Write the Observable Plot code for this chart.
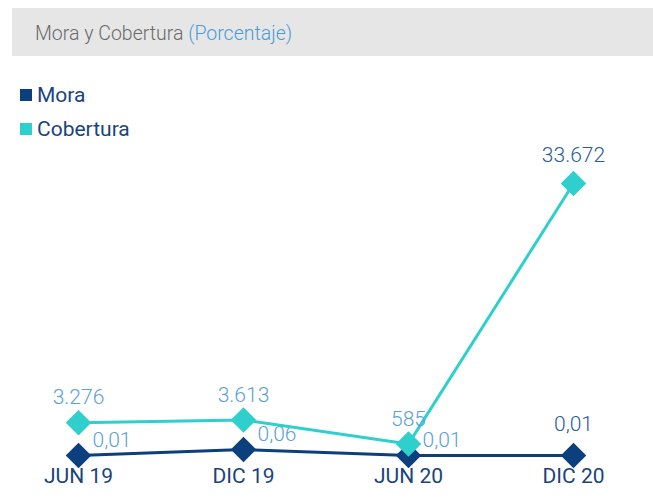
<!DOCTYPE html>
<html>
<head>
<meta charset="utf-8">
<script src="https://cdn.jsdelivr.net/npm/d3@7"></script>
<script src="https://cdn.jsdelivr.net/npm/@observablehq/plot@0.6"></script>
<style>
  html, body { margin: 0; padding: 0; background: #fff; width: 653px; height: 504px; overflow: hidden; font-family: Roboto, "Open Sans", sans-serif; }
  #header { position: absolute; left: 12px; top: 8px; width: 641px; height: 48px; background: #e6e6e6; box-sizing: border-box; padding-left: 23px; padding-top: 2px; line-height: 48px; font-size: 19.5px; font-weight: 300; color: #6a6a6a; }
  #header span { color: #4a9bd6; }
  .leg { position: absolute; left: 20px; font-size: 21px; color: #1a447c; line-height: 24px; }
  .leg i { display: inline-block; width: 12px; height: 12px; margin-right: 5px; vertical-align: 1px; }
  .chart { position: absolute; left: 0; top: 140px; }
</style>
</head>
<body>
<div id="header">Mora y Cobertura <span>(Porcentaje)</span></div>
<div class="leg" style="top:83px"><i style="background:#0b3f7e"></i>Mora</div>
<div class="leg" style="top:117px"><i style="background:#2ecfcc"></i>Cobertura</div>
<div id="c1" class="chart"></div>
<div id="c2" class="chart"></div>
<script>
const periods = ["JUN 19", "DIC 19", "JUN 20", "DIC 20"];
const mora = [0.01, 0.06, 0.01, 0.01];
const cobertura = [3276, 3613, 585, 33672];

const loc = d3.formatLocale({decimal: ",", thousands: ".", grouping: [3], currency: ["", "€"]});
const fmtC = loc.format(",d");
const fmtM = loc.format(",.2f");

const moraData = periods.map((p, i) => ({p, v: mora[i], i}));
const cobData = periods.map((p, i) => ({p, v: cobertura[i], i}));
const last = periods.length - 1;

const W = 653, H = 364;
const xScale = {type: "point", domain: periods, range: [78, 573], padding: 0, label: null};
const navy = "#0b3f7e", cyan = "#2ecfcc", lightLbl = "#5b9fd9", darkLbl = "#2a5b95";

const p1 = Plot.plot({
  width: W, height: H,
  marginLeft: 0, marginRight: 0, marginTop: 0, marginBottom: 42,
  x: xScale,
  y: {domain: [0.01, 0.06], range: [315, 309], axis: null},
  style: {fontFamily: "Roboto, sans-serif", overflow: "visible"},
  marks: [
    Plot.axisX({tickSize: 0, tickPadding: 6, fontSize: 21, fontWeight: 400, color: "#1a447c", fill: "#1a447c", letterSpacing: "-1px"}),
    Plot.line(moraData, {x: "p", y: "v", stroke: navy, strokeWidth: 3}),
    Plot.dot(moraData, {x: "p", y: "v", symbol: "diamond2", r: 11.5, fill: navy, stroke: "none"}),
    Plot.text(moraData.filter(d => d.i < last), {x: "p", y: "v", text: d => fmtM(d.v), textAnchor: "start", dx: 14, dy: -15, fontSize: 21, fontWeight: 300, fill: lightLbl}),
    Plot.text(moraData.filter(d => d.i === last), {x: "p", y: "v", text: d => fmtM(d.v), dy: -31, fontSize: 21, fontWeight: 300, fill: darkLbl})
  ]
});
document.getElementById("c1").appendChild(p1);

const p2 = Plot.plot({
  width: W, height: H,
  marginLeft: 0, marginRight: 0, marginTop: 0, marginBottom: 42,
  x: {...xScale, axis: null},
  y: {domain: [0, 33672], range: [308, 43], axis: null},
  style: {fontFamily: "Roboto, sans-serif", overflow: "visible", background: "transparent"},
  marks: [
    Plot.line(cobData, {x: "p", y: "v", stroke: cyan, strokeWidth: 3}),
    Plot.dot(cobData, {x: "p", y: "v", symbol: "diamond2", r: 11.5, fill: cyan, stroke: "none"}),
    Plot.text(cobData.filter(d => d.i < last), {x: "p", y: "v", text: d => fmtC(d.v), dy: -25, fontSize: 21, fontWeight: 300, fill: lightLbl}),
    Plot.text(cobData.filter(d => d.i === last), {x: "p", y: "v", text: d => fmtC(d.v), dy: -28, fontSize: 21, fontWeight: 300, fill: darkLbl})
  ]
});
document.getElementById("c2").appendChild(p2);
</script>
</body>
</html>
